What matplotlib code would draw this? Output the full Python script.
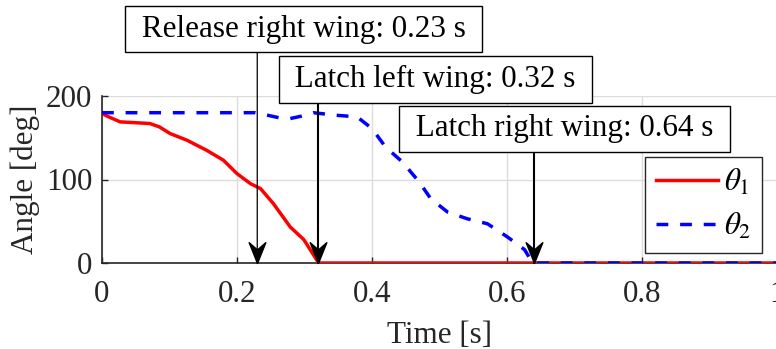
import matplotlib
matplotlib.use("Agg")
import matplotlib.pyplot as plt
from matplotlib.path import Path

# theta_1 (red) and theta_2 (blue)
t1 = [0, 0.01, 0.027, 0.05, 0.071, 0.085, 0.101, 0.126, 0.155, 0.18, 0.2,
      0.22, 0.235, 0.254, 0.279, 0.299, 0.321, 1.0]
th1 = [179, 175, 169, 168, 167, 163, 155, 147, 135, 123, 107,
       95, 89, 71, 43, 28, 0, 0]

t2 = [0, 0.227, 0.245, 0.262, 0.279, 0.296, 0.313, 0.346, 0.378, 0.40, 0.42,
      0.445, 0.47, 0.487, 0.512, 0.541, 0.571, 0.601, 0.626, 0.638, 1.0]
th2 = [180, 180, 177, 174, 173, 176, 180, 177, 175, 161, 139,
       121, 97, 77, 61, 53, 47, 31, 16, 0, 0]

# events: time, label, text box centre (x, y in data units), box bottom
ev_t = [0.23, 0.32, 0.64]
ev_label = ["Release right wing: 0.23 s", "Latch left wing: 0.32 s",
            "Latch right wing: 0.64 s"]
ev_box_x = [0.299, 0.494, 0.685]
ev_box_y = [280, 220, 160.5]
ev_box_bottom = [255, 193, 134]
ev_lw = [0.9, 1.5, 1.5]

plt.rcParams['font.family'] = ['Liberation Serif', 'DejaVu Serif']
plt.rcParams['mathtext.fontset'] = 'stix'
plt.rcParams['font.size'] = 22.4

fig = plt.figure(figsize=(7.76, 3.49), dpi=100)
ax = fig.add_axes([102 / 776, 86 / 349, 675 / 776, 167 / 349])

ax.plot(t1, th1, color='red', lw=2.5, label=r'$\theta_1$', zorder=3)
ax.plot(t2, th2, color='blue', lw=2.5, linestyle=(0, (3.4, 3.4)),
        label=r'$\theta_2$', zorder=4)

ax.set_xlim(0, 1)
ax.set_ylim(0, 200)
ax.set_xticks([0, 0.2, 0.4, 0.6, 0.8, 1])
ax.set_xticklabels(['0', '0.2', '0.4', '0.6', '0.8', '1'])
ax.set_yticks([0, 100, 200])
ax.grid(True, color='#dcdcdc', lw=1.0)
ax.set_axisbelow(True)
for s in ['top', 'right']:
    ax.spines[s].set_visible(False)
for s in ['left', 'bottom']:
    ax.spines[s].set_color('#262626')
    ax.spines[s].set_linewidth(1.2)
ax.tick_params(direction='in', length=4, width=1.0, colors='#262626')
ax.tick_params(axis='x', pad=12)
ax.tick_params(axis='y', pad=7)
ax.set_xlabel('Time [s]', color='#262626')
ax.set_ylabel('Angle [deg]', color='#262626')
ax.xaxis.set_label_coords(0.5, -0.345)
ax.yaxis.set_label_coords(-0.092, 0.5)

# notched arrow head, tip at origin, pointing down
head = Path([(0, 0), (-0.4, 1), (0, 0.65), (0.4, 1), (0, 0)],
            [Path.MOVETO, Path.LINETO, Path.LINETO, Path.LINETO, Path.CLOSEPOLY])

for t, lab, bx, by, bb, lw in zip(ev_t, ev_label, ev_box_x, ev_box_y,
                                  ev_box_bottom, ev_lw):
    ax.annotate('', xy=(t, 0), xytext=(t, bb), annotation_clip=False,
                arrowprops=dict(arrowstyle='-', lw=lw, color='k',
                                shrinkA=0, shrinkB=0), zorder=6)
    ax.plot([t], [0], marker=head, markersize=30, color='k', clip_on=False,
            zorder=7)
    ax.text(bx, by, ' ' + lab + ' ', ha='center', va='center', zorder=8,
            bbox=dict(boxstyle='square,pad=0.28', fc='white', ec='k', lw=1.0))

leg = ax.legend(loc='upper right', bbox_to_anchor=(0.978, 0.635),
                borderaxespad=0, fancybox=False, edgecolor='#262626',
                framealpha=1, handlelength=2.0, handletextpad=0.2,
                labelspacing=0.45, borderpad=0.35)
leg.get_frame().set_linewidth(1.0)
leg.set_zorder(9)

fig.savefig('out.png', dpi=100)
